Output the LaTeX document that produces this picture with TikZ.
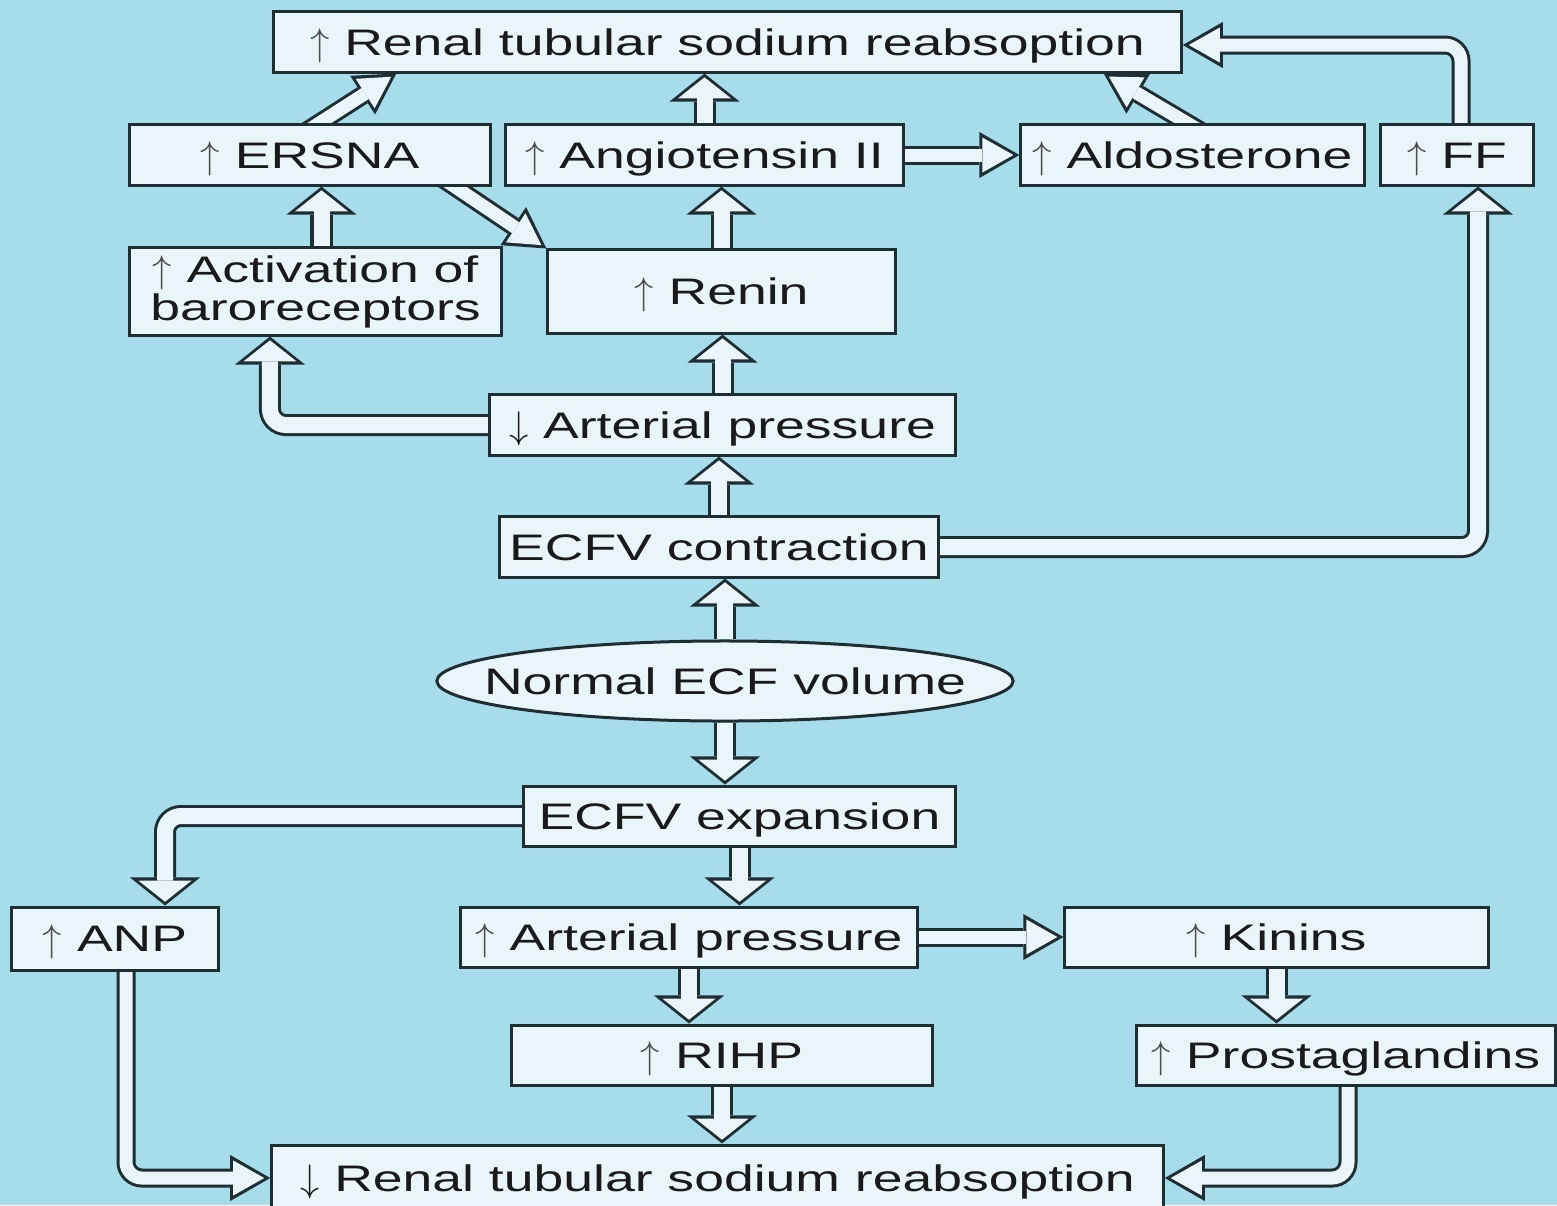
\documentclass[tikz,border=0pt]{standalone}
\usepackage{fontspec}
\setmainfont{Liberation Sans}[FakeStretch=1.45]
\usetikzlibrary{arrows.meta,shapes.geometric,backgrounds}

\definecolor{bgblue}{HTML}{A7DCEA}
\definecolor{boxfill}{HTML}{EAF5F9}
\definecolor{edgecol}{HTML}{1F2E33}
\definecolor{txtcol}{HTML}{1A1A1A}

\newcommand{\incr}{\textcolor{black!70}{$\uparrow$}}
\newcommand{\decr}{$\downarrow$}

\tikzset{
  box/.style={draw=edgecol, fill=boxfill, line width=0.3mm, inner sep=0pt,
    minimum height=6mm, text=txtcol, align=center,
    text height=7.5pt, text depth=0pt,
    font=\fontsize{10.5}{10.8}\selectfont},
  % hollow arrow ending on a top or bottom side
  upflow/.style={draw=boxfill, line width=1.6mm, rounded corners=1.6mm,
    shorten >=0.38mm, -{Triangle[length=2.1mm,width=5.3mm,line width=0pt]},
    preaction={draw=edgecol, line width=2.2mm, shorten >=0pt,
      -{Triangle[length=2.8mm,width=7mm,line width=0pt]}}},
  % hollow arrow ending on a left or right side
  sideflow/.style={draw=boxfill, line width=1.3mm, rounded corners=1.6mm,
    shorten >=0.6mm, -{Triangle[length=3.1mm,width=3.5mm,line width=0pt]},
    preaction={draw=edgecol, line width=1.9mm, shorten >=0pt,
      -{Triangle[length=4mm,width=4.6mm,line width=0pt]}}}
}

\begin{document}
\begin{tikzpicture}[x=0.01cm, y=-0.01cm]
  \useasboundingbox (0,0) rectangle (1557,1205);

  % Upper half: contraction
  \node[box, minimum width=9.07cm] (topbox) at (727.5,42) {\incr\ Renal tubular sodium reabsoption};
  \node[box, minimum width=3.6cm] (ersna) at (310,155) {\incr\ ERSNA};
  \node[box, minimum width=3.97cm] (angio) at (704.5,155) {\incr\ Angiotensin II};
  \node[box, minimum width=3.43cm] (aldo) at (1192.5,155) {\incr\ Aldosterone};
  \node[box, minimum width=1.52cm] (ff) at (1457,155) {\incr\ FF};
  \node[box, text height={}, text depth={}, minimum width=3.71cm, minimum height=8.7mm] (baro) at (315.5,291.5) {\incr\ Activation of\\baroreceptors};
  \node[box, minimum width=3.47cm, minimum height=8.3mm] (renin) at (721.5,291.5) {\incr\ Renin};
  \node[box, minimum width=4.65cm] (artdown) at (722.5,425) {\decr\ Arterial pressure};
  \node[box, minimum width=4.38cm] (contraction) at (719,547) {ECFV contraction};

  % Middle
  \node[box, ellipse, minimum width=5.76cm, minimum height=8mm] (normal) at (725,681) {\makebox[0pt]{Normal ECF volume}};

  % Lower half: expansion
  \node[box, minimum width=4.31cm] (expansion) at (739.5,816) {ECFV expansion};
  \node[box, minimum width=2.06cm, minimum height=6.3mm] (anp) at (115,938.5) {\incr\ ANP};
  \node[box, minimum width=4.56cm] (artup) at (689,937) {\incr\ Arterial pressure};
  \node[box, minimum width=4.23cm] (kinins) at (1276.5,937) {\incr\ Kinins};
  \node[box, minimum width=4.2cm] (rihp) at (722,1055) {\incr\ RIHP};
  \node[box, minimum width=4.18cm] (prost) at (1346,1055) {\incr\ Prostaglandins};
  \node[box, minimum width=8.91cm, minimum height=6.6mm] (bottom) at (717.5,1178) {\decr\ Renal tubular sodium reabsoption};

  \begin{scope}[on background layer]
    \fill[bgblue] (0,0) rectangle (1557,1205);

    % Arrows into the top box
    \draw[sideflow] ([xshift=-0.07cm,yshift=-0.1cm]ersna.north) -- ([xshift=1.24cm]topbox.south west);
    \draw[upflow] (angio.north) -- (angio.north |- topbox.south);
    \draw[sideflow] ([xshift=0.09cm,yshift=-0.08cm]aldo.north) -- ([xshift=-0.79cm]topbox.south east);
    \draw[sideflow] ([xshift=0.04cm]ff.north) |- ([yshift=-0.03cm]topbox.east);
    \draw[sideflow] (angio.east) -- (aldo.west);
    \draw[sideflow] ([xshift=-0.52cm,yshift=0.1cm]ersna.south east) -- (renin.north west);

    % Arrows between the upper boxes
    \draw[upflow] ([xshift=0.06cm]baro.north) -- ([xshift=0.06cm]baro.north |- ersna.south);
    \draw[upflow] (renin.north) -- (renin.north |- angio.south);
    \draw[upflow] (artdown.north) -- (artdown.north |- renin.south);
    \draw[upflow] (artdown.west) -| ([xshift=-0.455cm]baro.south);
    \draw[upflow] (contraction.north) -- (contraction.north |- artdown.south);
    \draw[upflow] (contraction.east) -| ([xshift=0.21cm]ff.south);

    % Arrows from the ellipse
    \draw[upflow] (normal.north) -- (normal.north |- contraction.south);
    \draw[upflow] (normal.south) -- (normal.south |- expansion.north);

    % Arrows between the lower boxes
    \draw[upflow] (expansion.west) -| ([xshift=0.5cm]anp.north);
    \draw[upflow] (expansion.south) -- (expansion.south |- artup.north);
    \draw[upflow] (artup.south) -- (artup.south |- rihp.north);
    \draw[sideflow] (artup.east) -- (kinins.west);
    \draw[upflow] (kinins.south) -- (kinins.south |- prost.north);

    % Arrows into the bottom box
    \draw[upflow] (rihp.south) -- (rihp.south |- bottom.north);
    \draw[sideflow] ([xshift=0.02cm]prost.south) |- (bottom.east);
    \draw[sideflow] ([xshift=0.11cm]anp.south) |- (bottom.west);
  \end{scope}
\end{tikzpicture}
\end{document}
